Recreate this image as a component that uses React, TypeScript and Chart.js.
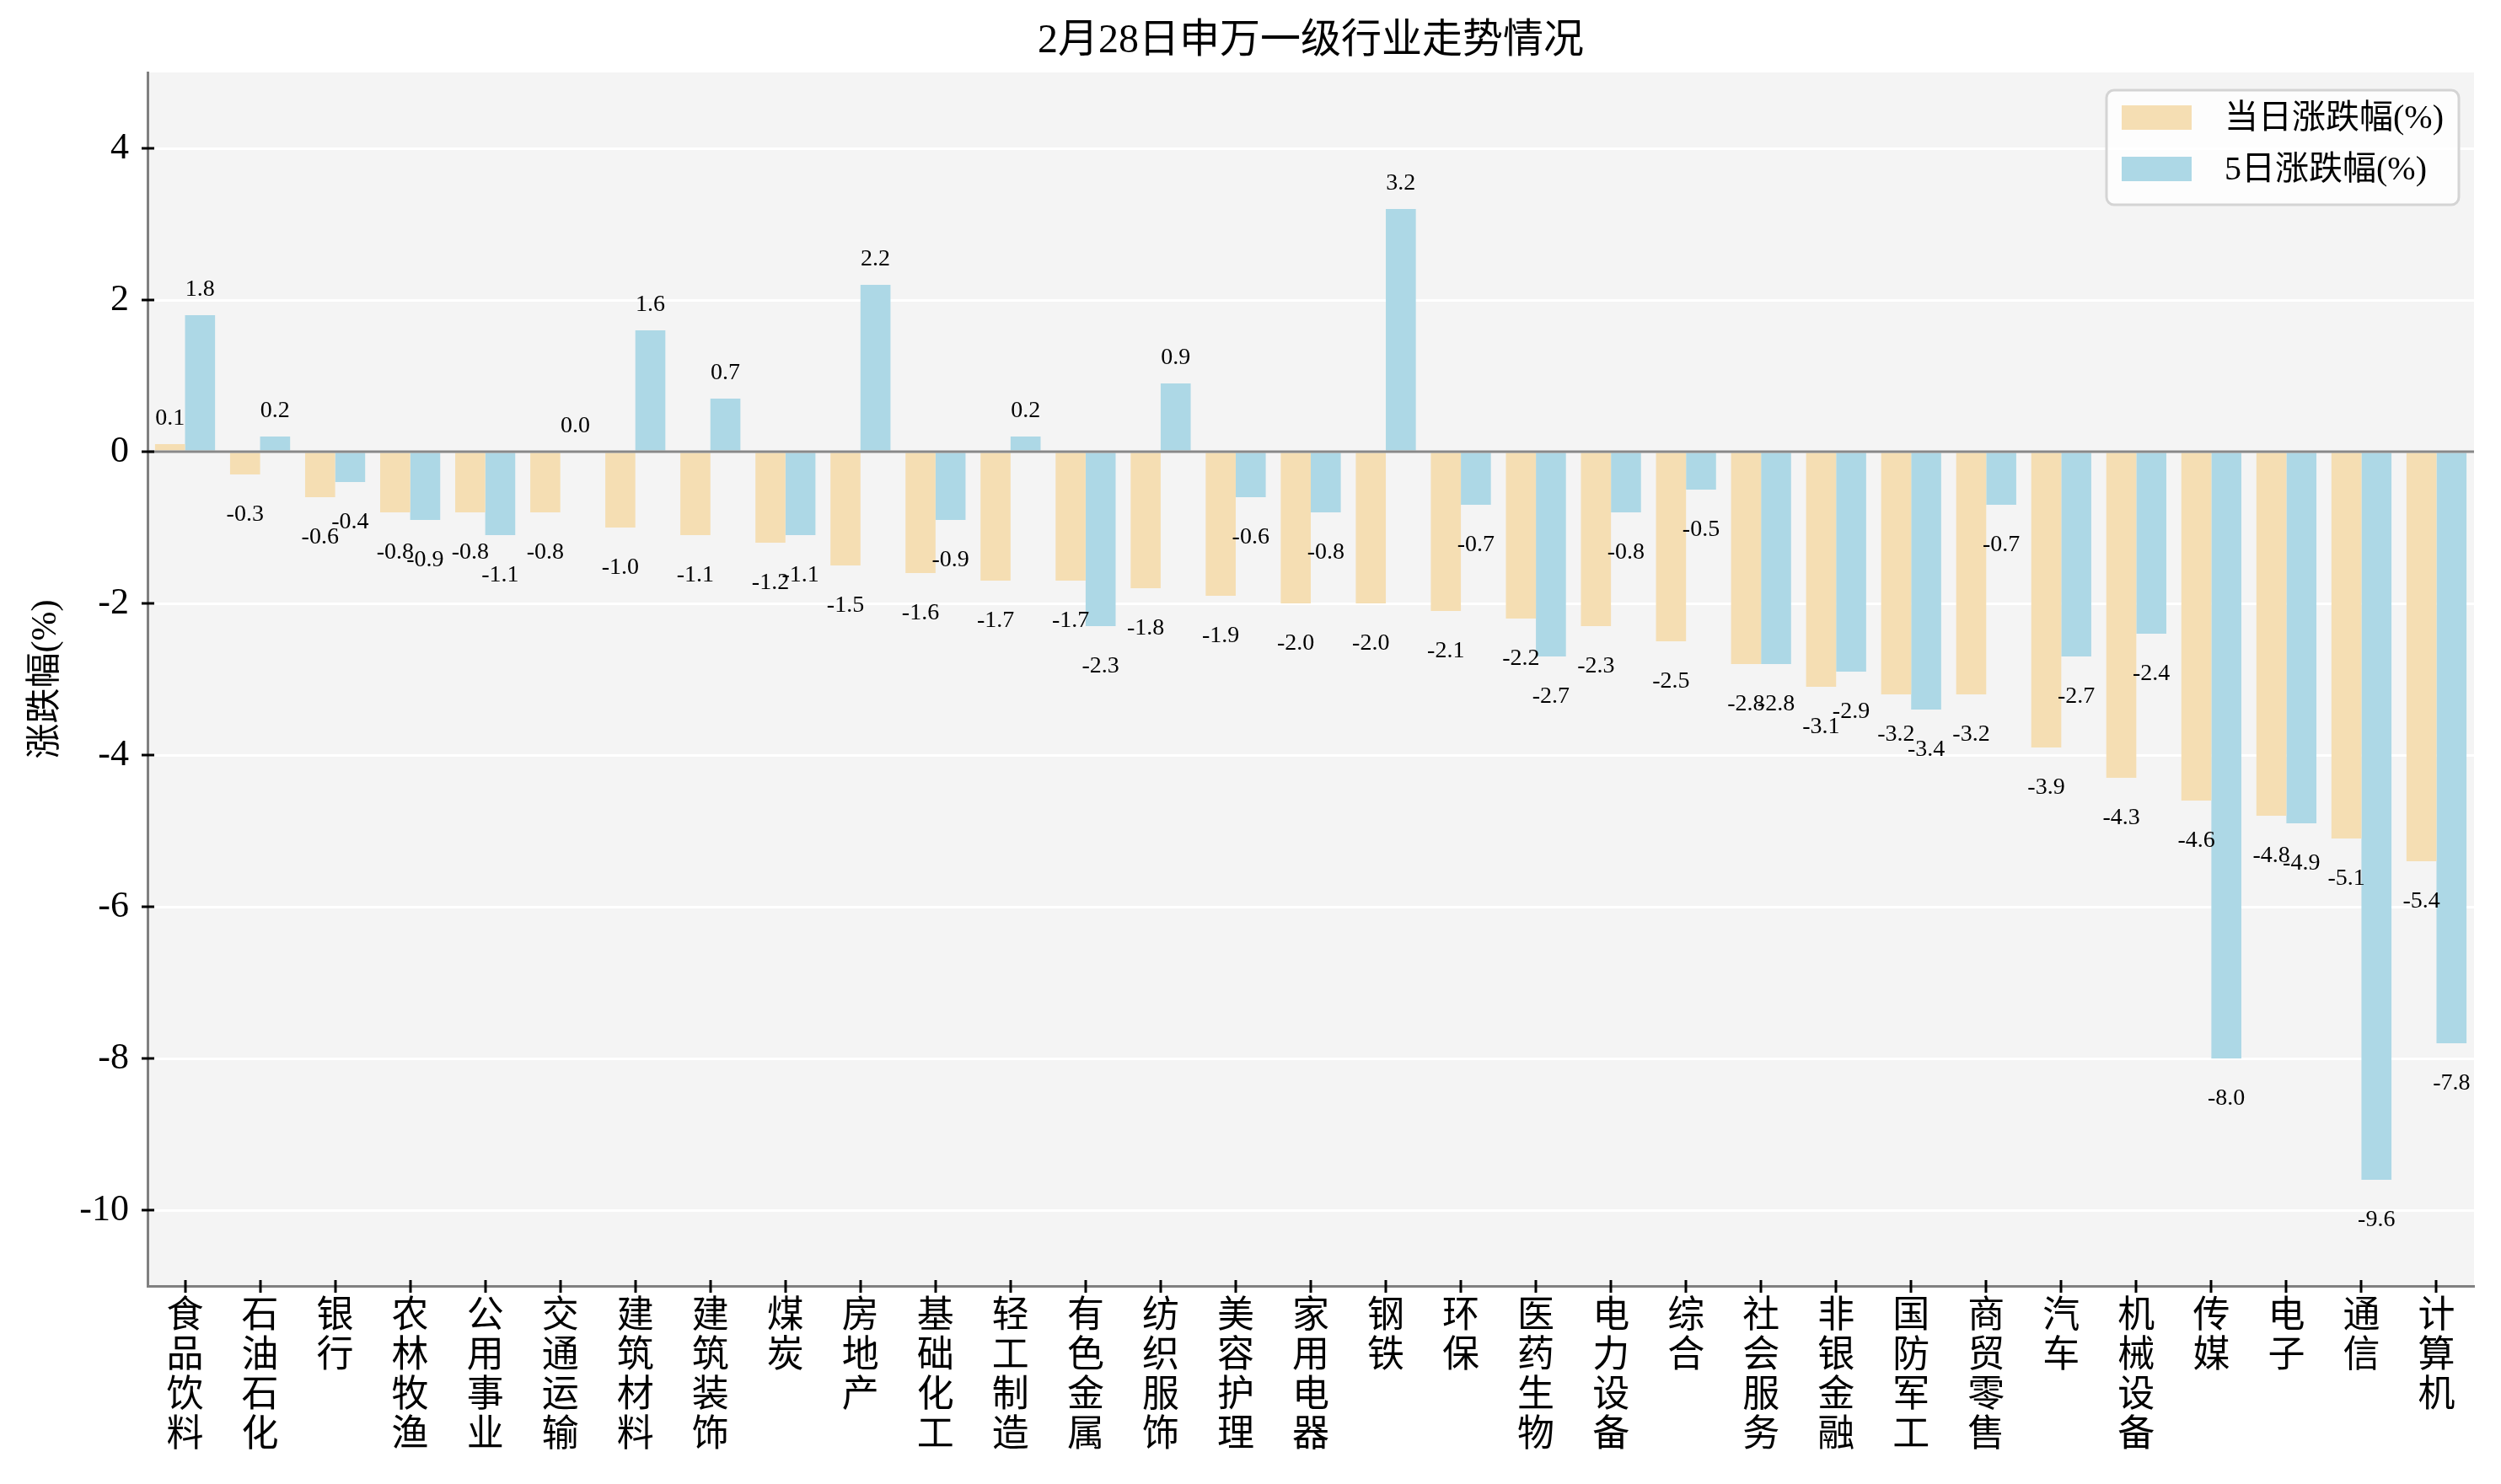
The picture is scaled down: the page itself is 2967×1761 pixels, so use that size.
import React, { useEffect, useRef } from 'react';
import { Chart, registerables } from 'chart.js';

Chart.register(...registerables);

const categories = [
  '食品饮料', '石油石化', '银行', '农林牧渔', '公用事业', '交通运输', '建筑材料', '建筑装饰',
  '煤炭', '房地产', '基础化工', '轻工制造', '有色金属', '纺织服饰', '美容护理', '家用电器',
  '钢铁', '环保', '医药生物', '电力设备', '综合', '社会服务', '非银金融', '国防军工',
  '商贸零售', '汽车', '机械设备', '传媒', '电子', '通信', '计算机',
];

const dailyChange = [
  0.1, -0.3, -0.6, -0.8, -0.8, -0.8, -1.0, -1.1, -1.2, -1.5, -1.6, -1.7, -1.7, -1.8, -1.9, -2.0,
  -2.0, -2.1, -2.2, -2.3, -2.5, -2.8, -3.1, -3.2, -3.2, -3.9, -4.3, -4.6, -4.8, -5.1, -5.4,
];

const fiveDayChange = [
  1.8, 0.2, -0.4, -0.9, -1.1, 0.0, 1.6, 0.7, -1.1, 2.2, -0.9, 0.2, -2.3, 0.9, -0.6, -0.8,
  3.2, -0.7, -2.7, -0.8, -0.5, -2.8, -2.9, -3.4, -0.7, -2.7, -2.4, -8.0, -4.9, -9.6, -7.8,
];

const yTicks = [-10, -8, -6, -4, -2, 0, 2, 4];
const yMin = -11;
const yMax = 5;

const seriesNames = ['当日涨跌幅(%)', '5日涨跌幅(%)'];
const seriesColors = ['#F5DEB3', '#ADD8E6'];
const titleText = '2月28日申万一级行业走势情况';
const yAxisTitle = '涨跌幅(%)';

const W = 2967;
const H = 1761;
const FONT = "'Liberation Serif', 'Noto Sans CJK SC', serif";

const decorPlugin = {
  id: 'decor',
  beforeDraw(chart: any) {
    const { ctx, chartArea: a } = chart;
    ctx.save();
    ctx.fillStyle = '#ffffff';
    ctx.fillRect(0, 0, W, H);
    ctx.fillStyle = '#f4f4f4';
    ctx.fillRect(a.left, a.top, a.right - a.left, a.bottom - a.top);
    ctx.restore();
  },
  afterDatasetsDraw(chart: any) {
    const { ctx, chartArea: a } = chart;
    const y0 = chart.scales.y.getPixelForValue(0);
    ctx.save();
    ctx.strokeStyle = '#888888';
    ctx.lineWidth = 3;
    ctx.beginPath();
    ctx.moveTo(a.left, y0);
    ctx.lineTo(a.right, y0);
    ctx.stroke();

    ctx.fillStyle = '#000000';
    ctx.font = `28px ${FONT}`;
    ctx.textAlign = 'center';
    ctx.textBaseline = 'middle';
    chart.data.datasets.forEach((ds: any, i: number) => {
      const meta = chart.getDatasetMeta(i);
      meta.data.forEach((bar: any, j: number) => {
        const v = ds.data[j];
        const y = v >= 0 ? bar.y - 30 : bar.y + 48;
        ctx.fillText(v.toFixed(1), bar.x, y);
      });
    });
    ctx.restore();
  },
  afterDraw(chart: any) {
    const { ctx, chartArea: a } = chart;
    const xs = chart.scales.x;
    const ys = chart.scales.y;
    ctx.save();
    // tick marks (in-out)
    ctx.strokeStyle = '#000000';
    ctx.lineWidth = 3;
    ctx.beginPath();
    yTicks.forEach((v) => {
      const py = Math.round(ys.getPixelForValue(v));
      ctx.moveTo(a.left - 7, py);
      ctx.lineTo(a.left + 8, py);
    });
    categories.forEach((_, i) => {
      const px = Math.round(xs.getPixelForValue(i));
      ctx.moveTo(px, a.bottom - 7);
      ctx.lineTo(px, a.bottom + 8);
    });
    ctx.stroke();

    // title
    ctx.fillStyle = '#000000';
    ctx.font = `48px ${FONT}`;
    ctx.textAlign = 'center';
    ctx.textBaseline = 'middle';
    ctx.fillText(titleText, (a.left + a.right) / 2, 49);

    // y axis title
    ctx.save();
    ctx.translate(55, (a.top + a.bottom) / 2);
    ctx.rotate(-Math.PI / 2);
    ctx.font = `42px ${FONT}`;
    ctx.fillText(yAxisTitle, 0, 0);
    ctx.restore();

    // legend
    const bx = a.right - 18 - 418;
    const by = a.top + 21;
    const bw = 418;
    const bh = 136;
    ctx.beginPath();
    (ctx as any).roundRect(bx, by, bw, bh, 9);
    ctx.fillStyle = 'rgba(255,255,255,0.8)';
    ctx.fill();
    ctx.strokeStyle = '#d4d4d4';
    ctx.lineWidth = 3;
    ctx.stroke();
    ctx.font = `40px ${FONT}`;
    ctx.textAlign = 'left';
    ctx.textBaseline = 'middle';
    seriesNames.forEach((name, i) => {
      const sy = by + 18 + i * 61;
      ctx.fillStyle = seriesColors[i];
      ctx.fillRect(bx + 18, sy, 83, 29);
      ctx.fillStyle = '#000000';
      ctx.fillText(name, bx + 140, sy + 16);
    });
    ctx.restore();
  },
};

export default function App() {
  const canvasRef = useRef<HTMLCanvasElement | null>(null);

  useEffect(() => {
    if (!canvasRef.current) return;
    const chart = new Chart(canvasRef.current, {
      type: 'bar',
      data: {
        labels: categories.map((c) => c.split('')),
        datasets: [
          {
            label: seriesNames[0],
            data: dailyChange,
            backgroundColor: seriesColors[0],
            borderWidth: 0,
            categoryPercentage: 0.8,
            barPercentage: 1.0,
          },
          {
            label: seriesNames[1],
            data: fiveDayChange,
            backgroundColor: seriesColors[1],
            borderWidth: 0,
            categoryPercentage: 0.8,
            barPercentage: 1.0,
          },
        ],
      },
      options: {
        responsive: false,
        devicePixelRatio: 1,
        animation: false,
        layout: { padding: { left: 0, right: 32, top: 86, bottom: 0 } },
        plugins: {
          legend: { display: false },
          title: { display: false },
          tooltip: { enabled: false },
        },
        scales: {
          x: {
            offset: true,
            grid: { display: false, drawTicks: false },
            border: { display: true, color: '#808080', width: 3 },
            ticks: {
              autoSkip: false,
              maxRotation: 0,
              minRotation: 0,
              padding: 14,
              color: '#000000',
              font: { family: FONT, size: 44, lineHeight: 47 / 44 },
            },
            afterFit: (scale: any) => {
              scale.height = 235;
            },
          },
          y: {
            min: yMin,
            max: yMax,
            grid: { color: '#ffffff', lineWidth: 3, drawTicks: false },
            border: { display: true, color: '#808080', width: 3 },
            ticks: {
              padding: 22,
              color: '#000000',
              font: { family: FONT, size: 44 },
              callback: (v: any) => String(v),
            },
            afterBuildTicks: (scale: any) => {
              scale.ticks = yTicks.map((v) => ({ value: v }));
            },
            afterFit: (scale: any) => {
              scale.width = 175;
            },
          },
        },
      },
      plugins: [decorPlugin],
    });
    return () => chart.destroy();
  }, []);

  return (
    <div style={{ position: 'fixed', left: 0, top: 0, width: W, height: H, background: '#fff' }}>
      <canvas ref={canvasRef} width={W} height={H} style={{ display: 'block', width: W, height: H }} />
    </div>
  );
}
